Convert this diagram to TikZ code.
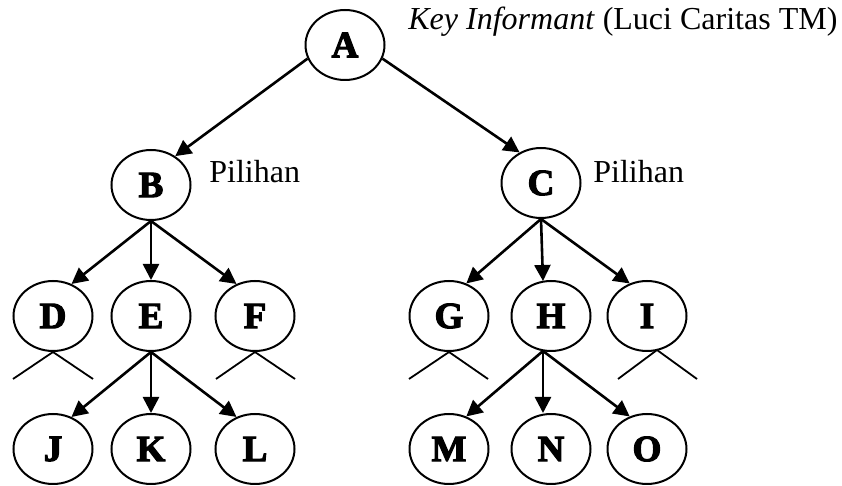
\documentclass[tikz,border=0pt]{standalone}
\usepackage{fontspec}
\setmainfont{Liberation Serif}
\newfontfamily\heavyfont[FakeBold=3]{Liberation Serif Bold}
\usetikzlibrary{shapes.geometric,arrows.meta,positioning,calc}

\begin{document}
\begin{tikzpicture}[x=0.5pt, y=-0.5pt,
    person/.style={draw, ellipse, line width=1pt, minimum width=39.5pt, minimum height=35pt,
        inner sep=0pt, font=\heavyfont\fontsize{18.5}{20}\selectfont},
    link/.style={-{Triangle[length=8pt,width=8pt]}, line width=1.3pt},
    branch/.style={line width=0.9pt},
    note/.style={anchor=base west, inner sep=0pt, font=\fontsize{16}{18}\selectfont}]
    \useasboundingbox (0,0) rectangle (842,486);

    % Key informant
    \node[person] (A) at (345,45) {A};
    \node[note] (keyA) at (408,30) {\textit{Key Informant} (Luci Caritas TM)};

    % Chosen informants
    \node[person] (B) at (151,185) {B};
    \node[person] (C) at (541,183) {C};
    \node[note] (pilB) at (209,183) {Pilihan};
    \node[note] (pilC) at (593,183) {Pilihan};

    % Third level
    \node[person] (D) at (53,316) {D};
    \node[person] (E) at (151,316) {E};
    \node[person] (F) at (255,316) {F};
    \node[person] (G) at (449,316) {G};
    \node[person] (H) at (551,316) {H};
    \node[person] (I) at (647,316) {I};

    % Fourth level
    \node[person] (J) at (53,449) {J};
    \node[person] (K) at (151,449) {K};
    \node[person] (L) at (255,449) {L};
    \node[person] (M) at (449,449) {M};
    \node[person] (N) at (551,449) {N};
    \node[person] (O) at (647,449) {O};

    \draw[link] (A.200) -- (B.50);
    \draw[link] (A.340) -- (C.125);

    \draw[link] (B.south) -- (D.60);
    \draw[link] (B.south) -- (E.north);
    \draw[link] (B.south) -- (F.120);

    \coordinate (hTop) at (543,281);
    \coordinate (hBot) at (543,351);
    \draw[link] (C.south) -- (G.62);
    \draw[link] (C.south) -- (hTop);
    \draw[link] (C.south) -- (I.118);

    \draw[link] (E.south) -- (J.60);
    \draw[link] (E.south) -- (K.north);
    \draw[link] (E.south) -- (L.120);

    \draw[link] (hBot) -- (M.62);
    \draw[link] (hBot) -- (N.north -| hBot);
    \draw[link] (hBot) -- (O.118);

    % open branches
    \foreach \n/\l/\r in {D/13/93, F/216/295, G/409/488} {
        \coordinate (\n-left) at (\l,379);
        \coordinate (\n-right) at (\r,379);
        \draw[branch] (\n-left) -- (\n.south) -- (\n-right);
    }
    \coordinate (iJoin) at (657,350);
    \coordinate (I-left) at (618,379);
    \coordinate (I-right) at (697,379);
    \draw[branch] (I-left) -- (iJoin) -- (I-right);
\end{tikzpicture}
\end{document}
